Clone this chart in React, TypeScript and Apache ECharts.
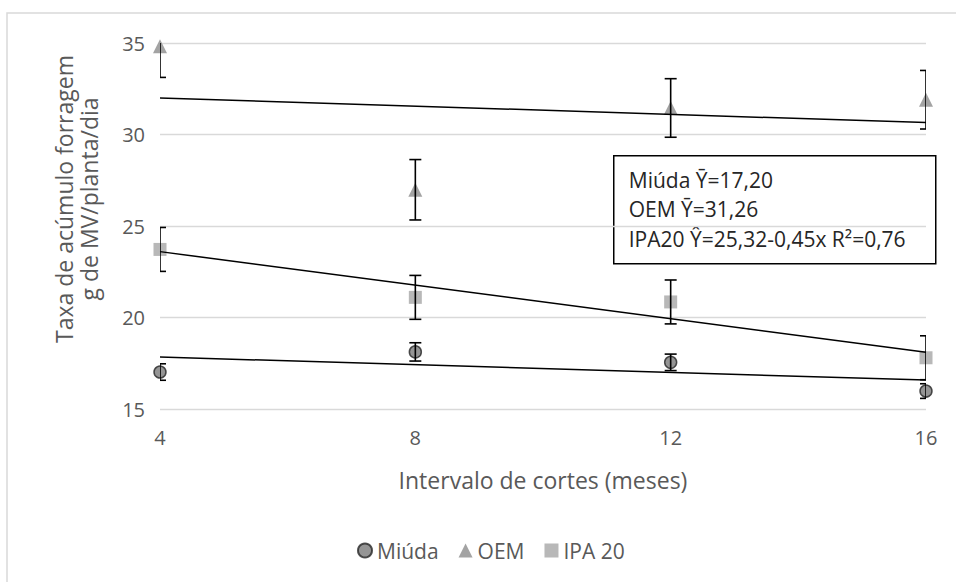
import React, { useEffect, useRef } from "react";
import * as echarts from "echarts";

const xValues = [4, 8, 12, 16];
const miuda = [17.02, 18.12, 17.55, 15.98];
const miudaErr = [0.45, 0.5, 0.45, 0.4];
const oem = [34.82, 26.98, 31.45, 31.9];
const oemErr = [1.7, 1.65, 1.6, 1.6];
const ipa = [23.72, 21.1, 20.85, 17.8];
const ipaErr = [1.2, 1.2, 1.2, 1.2];

const trendX = [4, 16];
const trendMiuda = [17.84, 16.58];
const trendOem = [32.0, 30.65];
const trendIpa = [23.6, 18.1];

const seriesNames = ["Miúda", "OEM", "IPA 20"];
const boxLines = ["Miúda Ȳ=17,20", "OEM Ȳ=31,26", "IPA20 Ŷ=25,32-0,45x R²=0,76"];
const yTitle = "Taxa de acúmulo forragem\ng de MV/planta/dia";
const xTitle = "Intervalo de cortes (meses)";

const FONT = "Open Sans";

const pts = (vals: number[]) => xValues.map((x, i) => [x, vals[i]]);
const errPts = (vals: number[], errs: number[]) => xValues.map((x, i) => [x, vals[i], errs[i]]);
const trendPts = (vals: number[]) => trendX.map((x, i) => [x, vals[i]]);

function errorRender(params: any, api: any) {
  const x = api.value(0);
  const y = api.value(1);
  const e = api.value(2);
  const top = api.coord([x, y + e]);
  const bot = api.coord([x, y - e]);
  const w = 6;
  const style = { stroke: "#000", lineWidth: 1.6 };
  return {
    type: "group",
    children: [
      { type: "line", shape: { x1: top[0], y1: top[1], x2: bot[0], y2: bot[1] }, style },
      { type: "line", shape: { x1: top[0] - w, y1: top[1], x2: top[0] + w, y2: top[1] }, style },
      { type: "line", shape: { x1: bot[0] - w, y1: bot[1], x2: bot[0] + w, y2: bot[1] }, style },
    ],
  };
}

export default function App() {
  const ref = useRef<HTMLDivElement>(null);
  useEffect(() => {
    if (!ref.current) return;
    const chart = echarts.init(ref.current, undefined, { renderer: "svg" });
    const trendStyle = { color: "#000", width: 1.5 };
    chart.setOption({
      animation: false,
      textStyle: { fontFamily: FONT },
      grid: { left: 160, right: 30, top: 43, bottom: 173, outerBoundsMode: "none", containLabel: false },
      xAxis: {
        type: "value",
        min: 4,
        max: 16,
        interval: 4,
        axisLine: { show: false },
        axisTick: { show: false },
        splitLine: { show: false },
        axisLabel: { color: "#595959", fontSize: 20, fontFamily: FONT, margin: 18 },
        name: xTitle,
        nameLocation: "middle",
        nameGap: 59,
        nameTextStyle: { color: "#595959", fontSize: 23, fontFamily: FONT },
      },
      yAxis: {
        type: "value",
        min: 15,
        max: 35,
        interval: 5,
        axisLine: { show: false },
        axisTick: { show: false },
        splitLine: { lineStyle: { color: "#d9d9d9", width: 1.3 } },
        axisLabel: { color: "#595959", fontSize: 20, fontFamily: FONT, margin: 15 },
      },
      legend: {
        top: 535,
        left: 352,
        itemWidth: 14,
        itemHeight: 14,
        itemGap: 20,
        textStyle: { color: "#595959", fontSize: 21, fontFamily: FONT },
        data: [
          { name: seriesNames[0], icon: "circle" },
          { name: seriesNames[1], icon: "triangle" },
          { name: seriesNames[2], icon: "rect" },
        ],
      },
      graphic: [
        {
          type: "rect",
          shape: { x: 7, y: 13, width: 1000, height: 700 },
          style: { fill: "none", stroke: "#d9d9d9", lineWidth: 1.5 },
          silent: true,
          z: -10,
        },
        {
          type: "text",
          x: 76,
          y: 199,
          rotation: Math.PI / 2,
          style: {
            text: yTitle,
            fill: "#595959",
            font: `23px ${FONT}`,
            lineHeight: 25,
            align: "center",
            verticalAlign: "middle",
          },
          silent: true,
        },
        {
          type: "group",
          left: 613,
          top: 155,
          children: [
            {
              type: "rect",
              shape: { x: 0, y: 0, width: 322, height: 108 },
              style: { fill: "#fff", stroke: "#000", lineWidth: 1.5 },
            },
            {
              type: "text",
              x: 15,
              y: 9,
              style: {
                text: boxLines.join("\n"),
                fill: "#262626",
                font: `21px ${FONT}`,
                lineHeight: 29.5,
              },
            },
          ],
          z: 100,
        },
      ],
      series: [
        {
          name: seriesNames[0],
          type: "scatter",
          symbol: "circle",
          symbolSize: 12,
          itemStyle: { color: "#7a7a7a", borderColor: "#262626", borderWidth: 1.5 },
          data: pts(miuda),
          z: 2,
        },
        {
          name: seriesNames[1],
          type: "scatter",
          symbol: "triangle",
          symbolSize: 14,
          itemStyle: { color: "#8c8c8c" },
          data: pts(oem),
          z: 2,
        },
        {
          name: seriesNames[2],
          type: "scatter",
          symbol: "rect",
          symbolSize: 13,
          itemStyle: { color: "#a6a6a6" },
          data: pts(ipa),
          z: 2,
        },
        { type: "custom", renderItem: errorRender, data: errPts(miuda, miudaErr), clip: true, z: 3, silent: true },
        { type: "custom", renderItem: errorRender, data: errPts(oem, oemErr), clip: true, z: 3, silent: true },
        { type: "custom", renderItem: errorRender, data: errPts(ipa, ipaErr), clip: true, z: 3, silent: true },
        { type: "line", data: trendPts(trendMiuda), symbol: "none", lineStyle: trendStyle, z: 4, silent: true },
        { type: "line", data: trendPts(trendOem), symbol: "none", lineStyle: trendStyle, z: 4, silent: true },
        { type: "line", data: trendPts(trendIpa), symbol: "none", lineStyle: trendStyle, z: 4, silent: true },
      ],
    });
    return () => chart.dispose();
  }, []);
  return (
    <div
      ref={ref}
      style={{ position: "fixed", left: 0, top: 0, width: 956, height: 582, background: "#fff" }}
    />
  );
}
